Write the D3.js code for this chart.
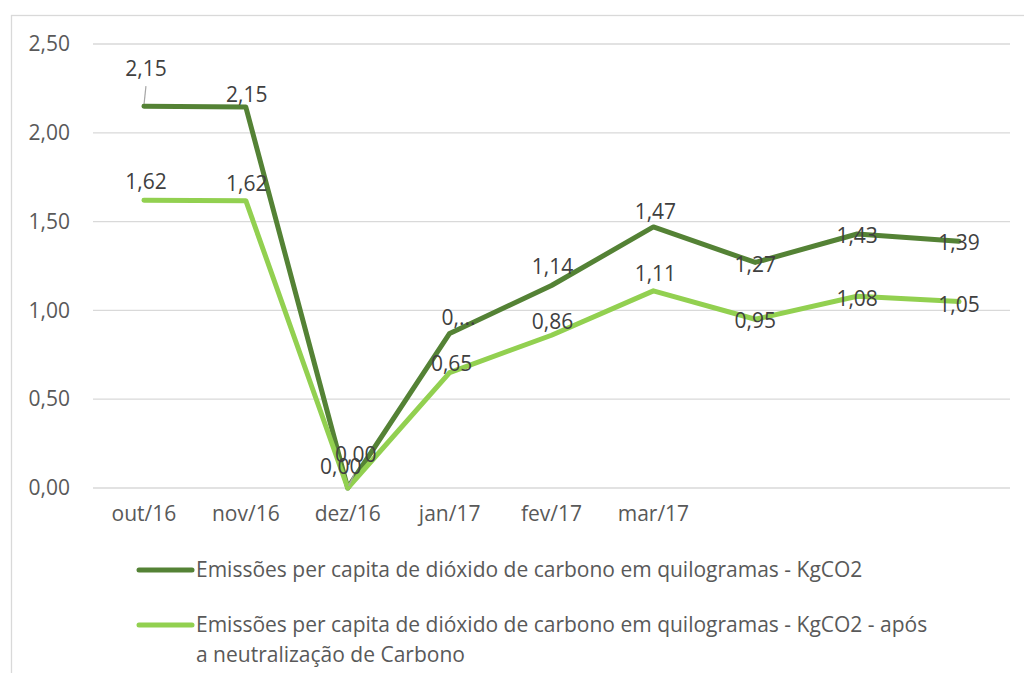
<!DOCTYPE html>
<html>
<head>
<meta charset="utf-8">
<script src="https://cdn.jsdelivr.net/npm/d3@7"></script>
<style>
  body { margin: 0; background: #fff; }
  text { font-family: "Open Sans", sans-serif; }
</style>
</head>
<body>
<div class="chart"></div>
<script>
// data
var months = ["out/16", "nov/16", "dez/16", "jan/17", "fev/17", "mar/17", "abr/17", "mai/17", "jun/17"];
var monthLabels = ["out/16", "nov/16", "dez/16", "jan/17", "fev/17", "mar/17", "", "", ""];
var emissoes = [2.15, 2.145, 0.00, 0.87, 1.14, 1.47, 1.27, 1.43, 1.39];
var emissoesNeutro = [1.62, 1.618, 0.00, 0.65, 0.86, 1.11, 0.95, 1.08, 1.05];
var labelsEmissoes = ["2,15", "2,15", "0,00", "0,...", "1,14", "1,47", "1,27", "1,43", "1,39"];
var labelsNeutro = ["1,62", "1,62", "0,00", "0,65", "0,86", "1,11", "0,95", "1,08", "1,05"];
var yTicks = [0, 0.5, 1, 1.5, 2, 2.5];
var seriesNames = [
  "Emissões per capita de dióxido de carbono em quilogramas - KgCO2",
  "Emissões per capita de dióxido de carbono em quilogramas - KgCO2 - após",
  "a neutralização de Carbono"
];

// where each data label sits, relative to its point
var offsetsEmissoes = [[2, -38], [1, -12], [8, -33], [9, -16], [1, -19], [2, -15], [0, 2], [0, 2], [0, 2]];
var offsetsNeutro = [[2, -19], [1, -17], [-7, -21], [2, -9], [1, -14], [2, -17], [0, 1], [0, 2], [0, 3]];

var fontSize = 21;
var svgWidth = 1024, svgHeight = 673;
var margin = { top: 44, left: 93, right: 14, bottom: 185 };
var width = svgWidth - margin.left - margin.right;
var height = svgHeight - margin.top - margin.bottom;

var svg = d3.select(".chart").append("svg")
  .attr("width", svgWidth)
  .attr("height", svgHeight);

// chart frame
svg.append("rect")
  .attr("x", 11.5).attr("y", 15.5)
  .attr("width", 1030).attr("height", 700)
  .attr("fill", "none")
  .attr("stroke", "#d9d9d9")
  .attr("stroke-width", 1.3);

var chartGroup = svg.append("g")
  .attr("transform", `translate(${margin.left}, ${margin.top})`);

var xScale = d3.scaleBand()
  .domain(months)
  .range([0, width]);

var yScale = d3.scaleLinear()
  .domain([0, 2.5])
  .range([height, 0]);

var fmt = d => d3.format(".2f")(d).replace(".", ",");

// grid lines
chartGroup.append("g")
  .selectAll("line")
  .data(yTicks)
  .enter()
  .append("line")
  .attr("x1", 0).attr("x2", width)
  .attr("y1", d => yScale(d)).attr("y2", d => yScale(d))
  .attr("stroke", "#d9d9d9")
  .attr("stroke-width", 1.3);

// y axis labels
var yAxis = d3.axisLeft(yScale).tickValues(yTicks).tickFormat(fmt).tickSize(0).tickPadding(23);
var yAxisG = chartGroup.append("g").call(yAxis);
yAxisG.select(".domain").remove();
yAxisG.selectAll("text")
  .attr("font-family", "Open Sans")
  .attr("font-size", fontSize)
  .attr("fill", "#595959");

// x axis labels
var xAxis = d3.axisBottom(xScale).tickFormat((d, i) => monthLabels[i]).tickSize(0).tickPadding(18);
var xAxisG = chartGroup.append("g")
  .attr("transform", `translate(0, ${height})`)
  .call(xAxis);
xAxisG.select(".domain").remove();
xAxisG.selectAll("text")
  .attr("font-family", "Open Sans")
  .attr("font-size", fontSize)
  .attr("fill", "#595959");

var cx = d => xScale(d) + xScale.bandwidth() / 2;

var series = [
  { values: emissoes, labels: labelsEmissoes, offsets: offsetsEmissoes, color: "#548235" },
  { values: emissoesNeutro, labels: labelsNeutro, offsets: offsetsNeutro, color: "#92d050" }
];

// leader lines for moved labels
chartGroup.append("line")
  .attr("x1", cx(months[0])).attr("y1", yScale(emissoes[0]) - 1)
  .attr("x2", cx(months[0]) + 2).attr("y2", yScale(emissoes[0]) - 20)
  .attr("stroke", "#a6a6a6")
  .attr("stroke-width", 1.2);

var line = d3.line()
  .x((d, i) => cx(months[i]))
  .y(d => yScale(d));

// excel draws the second series on top
series.forEach(s => {
  chartGroup.append("path")
    .datum(s.values)
    .attr("d", line)
    .attr("fill", "none")
    .attr("stroke", s.color)
    .attr("stroke-width", 5)
    .attr("stroke-linejoin", "round")
    .attr("stroke-linecap", "round");
});

chartGroup.append("line")
  .attr("x1", cx(months[2]) + 1).attr("y1", yScale(emissoesNeutro[2]) - 2)
  .attr("x2", cx(months[2]) + 6).attr("y2", yScale(emissoesNeutro[2]) - 13)
  .attr("stroke", "#a6a6a6")
  .attr("stroke-width", 1.2);

series.forEach(s => {
  chartGroup.append("g")
    .selectAll("text")
    .data(s.values)
    .enter()
    .append("text")
    .attr("x", (d, i) => cx(months[i]) + s.offsets[i][0])
    .attr("y", (d, i) => yScale(d) + s.offsets[i][1])
    .attr("dy", "0.35em")
    .attr("text-anchor", "middle")
    .attr("font-size", fontSize)
    .attr("fill", "#404040")
    .text((d, i) => s.labels[i]);
});

// legend
var legend = svg.append("g");
var legendRows = [
  { y: 570, color: "#548235", lines: [seriesNames[0]] },
  { y: 625, color: "#92d050", lines: [seriesNames[1], seriesNames[2]] }
];
legendRows.forEach(r => {
  legend.append("line")
    .attr("x1", 139).attr("x2", 192)
    .attr("y1", r.y).attr("y2", r.y)
    .attr("stroke", r.color)
    .attr("stroke-width", 5)
    .attr("stroke-linecap", "round");
  r.lines.forEach((t, j) => {
    legend.append("text")
      .attr("x", 196)
      .attr("y", r.y + j * 30)
      .attr("dy", "0.35em")
      .attr("font-size", fontSize)
      .attr("fill", "#595959")
      .text(t);
  });
});
</script>
</body>
</html>
